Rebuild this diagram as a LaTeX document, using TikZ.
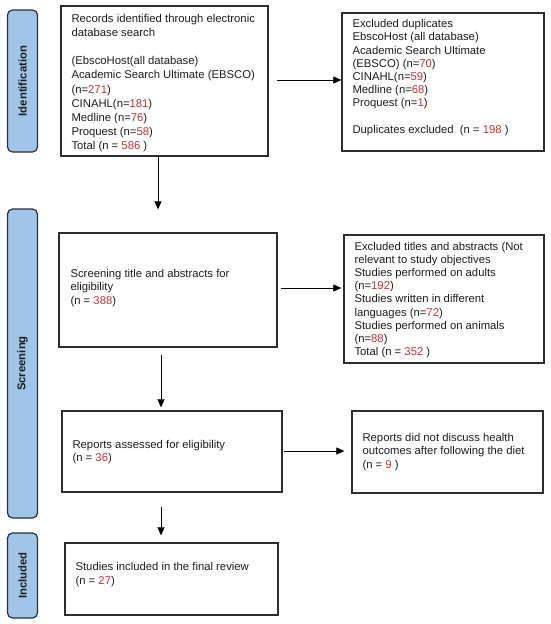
\documentclass[tikz,border=0pt]{standalone}
\usepackage{fontspec}
\setmainfont{Liberation Sans}
\usetikzlibrary{arrows.meta,calc}
\definecolor{numred}{RGB}{200,50,50}
\definecolor{txt}{RGB}{30,30,30}
\definecolor{boxline}{RGB}{45,45,45}
\definecolor{phasefill}{RGB}{160,197,232}
\definecolor{phaseline}{RGB}{40,48,64}
\newcommand{\rn}[1]{\textcolor{numred}{#1}}
\tikzset{
  box/.style={draw=boxline, line width=1.3pt, inner sep=0pt},
  btext/.style={anchor=west, inner sep=0pt, align=left, text=txt,
    font=\fontsize{11.3}{13.2}\selectfont},
  phase/.style={draw=phaseline, fill=phasefill, line width=1.2pt, rounded corners=5pt,
    rotate=90, inner sep=0pt, text=txt, font=\fontsize{11.3}{13.2}\selectfont\bfseries},
  arr/.style={draw=black, line width=0.7pt, -{Triangle[length=8pt,width=7pt]}}
}
\begin{document}
\begin{tikzpicture}[x=1pt,y=-1pt]
\useasboundingbox (0,0) rectangle (550,624);

% phase labels
\node[phase, minimum width=142pt, minimum height=30pt] (idl) at (22.5,81) {Identification};
\node[phase, minimum width=309pt, minimum height=30pt] (scl) at (22.5,363.5) {Screening};
\node[phase, minimum width=85pt, minimum height=30pt] (inl) at (22.5,575.5) {Included};

% boxes
\node[box, minimum width=207pt, minimum height=150pt] (rec) at (164.5,81) {};
\node[box, minimum width=202pt, minimum height=138pt] (dup) at (443,82) {};
\node[box, minimum width=218pt, minimum height=114pt] (scr) at (168,290) {};
\node[box, minimum width=200pt, minimum height=128pt] (exc) at (444,299) {};
\node[box, minimum width=220pt, minimum height=81pt] (rep) at (172,451.5) {};
\node[box, minimum width=191pt, minimum height=82pt] (nd) at (447.5,452) {};
\node[box, minimum width=213pt, minimum height=72pt] (inc) at (171.5,579) {};

% texts
\node[btext, font=\fontsize{11.3}{14.2}\selectfont] (recT) at ($(rec.west)+(11,2)$) {Records identified through electronic\\database search\\[14.2pt]
(EbscoHost(all database)\\Academic Search Ultimate (EBSCO)\\(n=\rn{271})\\CINAHL(n=\rn{181})\\Medline (n=\rn{76})\\Proquest (n=\rn{58})\\Total (n = \rn{586} )};
\node[btext] (dupT) at ($(dup.west)+(11,-4.5)$) {Excluded duplicates\\EbscoHost (all database)\\Academic Search Ultimate\\(EBSCO) (n=\rn{70})\\CINAHL(n=\rn{59})\\Medline (n=\rn{68})\\Proquest (n=\rn{1})\\[13.2pt]Duplicates excluded\ \ (n = \rn{198} )};
\node[btext] (scrT) at ($(scr.west)+(12,-2)$) {Screening title and abstracts for\\eligibility\\(n = \rn{388})};
\node[btext] (excT) at ($(exc.west)+(11,1)$) {Excluded titles and abstracts (Not\\relevant to study objectives\\Studies performed on adults\\(n=\rn{192})\\Studies written in different\\languages (n=\rn{72})\\Studies performed on animals\\(n=\rn{88})\\Total (n = \rn{352} )};
\node[btext] (repT) at ($(rep.west)+(11,0.5)$) {Reports assessed for eligibility\\(n = \rn{36})};
\node[btext] (ndT) at ($(nd.west)+(11,0)$) {Reports did not discuss health\\outcomes after following the diet\\(n = \rn{9} )};
\node[btext] (incT) at ($(inc.west)+(11,-4.5)$) {Studies included in the final review\\(n = \rn{27})};

% arrow guide coordinates
\coordinate (v1) at (158,0);
\coordinate (v2) at (161,0);
\coordinate (h1) at (0,80);
\coordinate (h2) at (0,288);
\coordinate (h3) at (0,451);

% connectors
\draw[arr, shorten >=23pt] (rec.south -| v1) -- (scr.north -| v1);
\draw[arr, shorten <=8pt] (rec.east |- h1) -- (dup.west |- h1);
\draw[arr, shorten <=7pt, shorten >=3pt] (scr.south -| v2) -- (rep.north -| v2);
\draw[arr, shorten <=3pt, shorten >=2pt] (scr.east |- h2) -- (exc.west |- h2);
\draw[arr, shorten <=14pt, shorten >=7pt] (rep.south -| v2) -- (inc.north -| v2);
\draw[arr, shorten <=1pt, shorten >=7pt] (rep.east |- h3) -- (nd.west |- h3);
\end{tikzpicture}
\end{document}
